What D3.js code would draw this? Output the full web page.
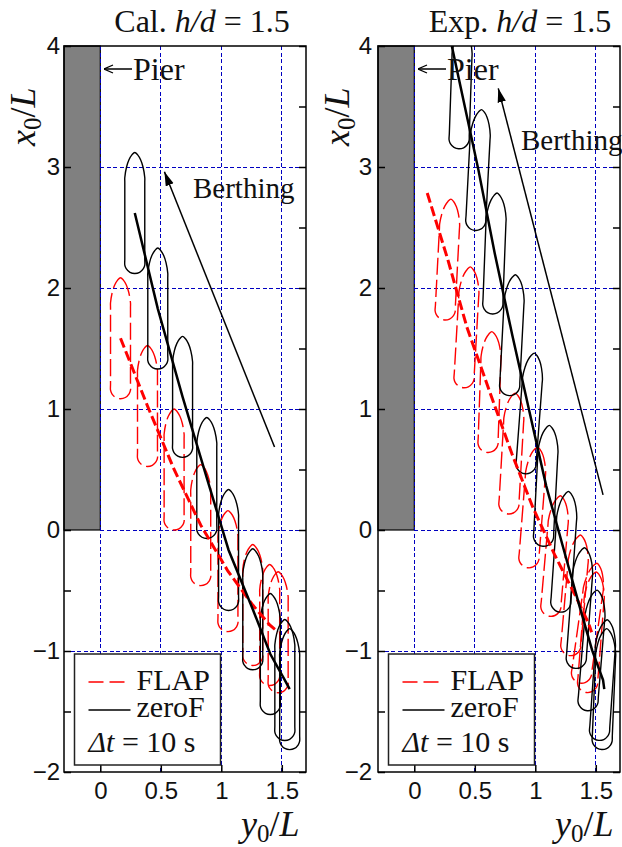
<!DOCTYPE html>
<html>
<head>
<meta charset="utf-8">
<script src="https://cdn.jsdelivr.net/npm/d3@7"></script>
<style>
  html, body { margin: 0; padding: 0; background: #fff; }
  svg { display: block; }
  .serif { font-family: "Liberation Serif", serif; }
  .axis text { font-family: "Liberation Sans", sans-serif; font-size: 24px; fill: #111; }
  .axis line { stroke: #000; stroke-width: 1.5px; }
  .axis path { display: none; }
</style>
</head>
<body>
<div id="chart"></div>
<script>
var xTicks = [0, 0.5, 1, 1.5];
var xTickLabels = ["0", "0.5", "1", "1.5"];
var yTicks = [-2, -1, 0, 1, 2, 3, 4];
var yTickLabels = ["\u22122", "\u22121", "0", "1", "2", "3", "4"];
var yMinorTicks = [-1.5, -0.5, 0.5, 1.5, 2.5, 3.5];
var xDomain = [-0.3, 1.7];
var yDomain = [-2, 4];
var pierEdge = 0;

// Cal. panel: ship centres (y0/L, x0/L) and heading in degrees
var calZeroY = [0.285, 0.475, 0.68, 0.88, 1.06, 1.26, 1.405, 1.525, 1.565];
var calZeroX = [2.62, 1.83, 1.10, 0.43, -0.165, -0.655, -1.025, -1.24, -1.315];
var calZeroHeading = [0, 0, 0, 0, 0, 0, 0, 0, 0];
var calFlapY = [0.167, 0.39, 0.61, 0.83, 1.055, 1.26, 1.40, 1.47];
var calFlapX = [1.585, 1.025, 0.50, 0.04, -0.34, -0.62, -0.785, -0.845];
var calFlapHeading = [0, 0, 0, 0, 0, 0, 0, 0];
var calArrowY = [1.44, 0.53];
var calArrowX = [0.686, 2.96];

// Exp. panel
var expZeroY = [0.385, 0.53, 0.665, 0.81, 0.955, 1.09, 1.24, 1.37, 1.47, 1.56, 1.57];
var expZeroX = [3.65, 2.975, 2.285, 1.61, 0.963, 0.365, -0.18, -0.645, -0.995, -1.24, -1.315];
var expZeroHeading = [2, 3, 2.2, 3, 4.3, 3, 4, 4.3, 4.7, 4, 2.4];
var expZeroStartY = 0.31;
var expZeroStartX = 4.0;
var expFlapY = [0.277, 0.435, 0.624, 0.806, 0.98, 1.165, 1.33, 1.44, 1.465];
var expFlapX = [2.235, 1.675, 1.14, 0.632, 0.186, -0.215, -0.54, -0.77, -0.845];
var expFlapHeading = [3, 3.3, 2, 3.3, 4.5, 5, 5, 8, 4.5];
var expFlapStartY = 0.107;
var expFlapStartX = 2.785;
var expArrowY = [1.56, 0.694];
var expArrowX = [0.29, 3.65];

// half of the hull outline, along the ship and across it (ship lengths)
var hullAlong = [0.5, 0.48, 0.44, 0.38, 0.293, 0.25, -0.38, -0.43, -0.46, -0.49, -0.5];
var hullAcross = [0, 0.024, 0.048, 0.068, 0.0825, 0.0825, 0.0825, 0.0825, 0.071, 0.04, 0];

var W = 622, H = 847;
var svg = d3.select("#chart").append("svg").attr("width", W).attr("height", H);

var defs = svg.append("defs");
defs.append("marker").attr("id", "head")
  .attr("viewBox", "0 0 10 6").attr("refX", 10).attr("refY", 3)
  .attr("markerUnits", "userSpaceOnUse")
  .attr("markerWidth", 14).attr("markerHeight", 9).attr("orient", "auto")
  .append("path").attr("d", "M0,0L10,3L0,6Z").attr("fill", "#000");
defs.append("marker").attr("id", "barb")
  .attr("viewBox", "0 0 10 10").attr("refX", 10).attr("refY", 5)
  .attr("markerUnits", "userSpaceOnUse")
  .attr("markerWidth", 10).attr("markerHeight", 10).attr("orient", "auto")
  .append("path").attr("d", "M1,1L10,5L1,9").attr("fill", "none").attr("stroke", "#000").attr("stroke-width", 1.3);

// closed outline of one ship in data units
function hullPoints(cy, cx, heading) {
  var a = heading * Math.PI / 180;
  var pts = [];
  hullAlong.forEach(function(u, i) {
    pts.push([u, hullAcross[i]]);
  });
  for (var i = hullAlong.length - 2; i > 0; i--) {
    pts.push([hullAlong[i], -hullAcross[i]]);
  }
  return pts.map(function(p) {
    return [cy + p[0] * Math.sin(a) + p[1] * Math.cos(a),
            cx + p[0] * Math.cos(a) - p[1] * Math.sin(a)];
  });
}

function drawPanel(cfg) {
  var x = d3.scaleLinear().domain(xDomain).range([cfg.left, cfg.left + 242]);
  var y = d3.scaleLinear().domain(yDomain).range([772, 46]);
  var g = svg.append("g");

  defs.append("clipPath").attr("id", cfg.id)
    .append("rect").attr("x", cfg.left).attr("y", 46).attr("width", 242).attr("height", 726);

  // pier
  g.append("rect")
    .attr("x", x(xDomain[0])).attr("y", y(4))
    .attr("width", x(pierEdge) - x(xDomain[0])).attr("height", y(0) - y(4))
    .attr("fill", "#808080").attr("stroke", "#000").attr("stroke-width", 1.2);

  // grid
  g.selectAll(".gv").data(xTicks).enter().append("line")
    .attr("x1", function(d) { return x(d); }).attr("x2", function(d) { return x(d); })
    .attr("y1", y(4)).attr("y2", y(-2))
    .attr("stroke", "#0000c0").attr("stroke-width", 1).attr("stroke-dasharray", "4,2.5")
    .attr("shape-rendering", "crispEdges");
  g.selectAll(".gh").data(yTicks.slice(1, 6)).enter().append("line")
    .attr("x1", function(d) { return d >= 0 ? x(pierEdge) : x(xDomain[0]); }).attr("x2", x(xDomain[1]))
    .attr("y1", function(d) { return y(d); }).attr("y2", function(d) { return y(d); })
    .attr("stroke", "#0000c0").attr("stroke-width", 1).attr("stroke-dasharray", "4,2.5")
    .attr("shape-rendering", "crispEdges");

  var plot = g.append("g").attr("clip-path", "url(#" + cfg.id + ")");
  var hull = d3.line()
    .x(function(d) { return x(d[0]); })
    .y(function(d) { return y(d[1]); })
    .curve(d3.curveCatmullRomClosed.alpha(0.5));
  var track = d3.line()
    .x(function(d) { return x(d[0]); })
    .y(function(d) { return y(d[1]); });

  // FLAP first, zeroF on top
  cfg.flapY.forEach(function(v, i) {
    plot.append("path").attr("d", hull(hullPoints(v, cfg.flapX[i], cfg.flapH[i])))
      .attr("fill", "none").attr("stroke", "#ff0000").attr("stroke-width", 1.4)
      .attr("stroke-dasharray", "17,5");
  });
  cfg.zeroY.forEach(function(v, i) {
    plot.append("path").attr("d", hull(hullPoints(v, cfg.zeroX[i], cfg.zeroH[i])))
      .attr("fill", "none").attr("stroke", "#000").attr("stroke-width", 1.4);
  });
  plot.append("path").attr("d", track(cfg.flapTrack))
    .attr("fill", "none").attr("stroke", "#ff0000").attr("stroke-width", 3)
    .attr("stroke-dasharray", "10,4");
  plot.append("path").attr("d", track(cfg.zeroTrack))
    .attr("fill", "none").attr("stroke", "#000").attr("stroke-width", 2.5);

  // berthing arrow
  g.append("line")
    .attr("x1", x(cfg.arrowY[0])).attr("y1", y(cfg.arrowX[0]))
    .attr("x2", x(cfg.arrowY[1])).attr("y2", y(cfg.arrowX[1]))
    .attr("stroke", "#000").attr("stroke-width", 1.5).attr("marker-end", "url(#head)");
  g.append("text").attr("class", "serif").attr("x", cfg.berthX).attr("y", cfg.berthBase)
    .attr("font-size", 29).attr("fill", "#111").text("Berthing");

  // pier label
  g.append("line")
    .attr("x1", cfg.left + 68).attr("x2", cfg.left + 40).attr("y1", 69).attr("y2", 69)
    .attr("stroke", "#000").attr("stroke-width", 1.5).attr("marker-end", "url(#barb)");
  g.append("text").attr("class", "serif").attr("x", cfg.left + 69).attr("y", 80)
    .attr("font-size", 32).attr("fill", "#111").text("Pier");

  // axes
  var axB = d3.axisBottom(x).tickValues(xTicks).tickSizeInner(-7).tickSizeOuter(0).tickPadding(10)
    .tickFormat(function(d, i) { return xTickLabels[i]; });
  var axL = d3.axisLeft(y).tickValues(yTicks).tickSizeInner(-7).tickSizeOuter(0).tickPadding(cfg.tickPad)
    .tickFormat(function(d, i) { return yTickLabels[i]; });
  g.append("g").attr("class", "axis").attr("transform", "translate(0,772)").call(axB);
  g.append("g").attr("class", "axis").attr("transform", "translate(" + cfg.left + ",0)").call(axL);
  g.append("g").attr("class", "axis").attr("transform", "translate(" + (cfg.left + 242) + ",0)")
    .call(d3.axisRight(y).tickValues(yTicks.concat(yMinorTicks)).tickSizeInner(-7).tickSizeOuter(0).tickFormat(""));
  g.append("g").attr("class", "axis").attr("transform", "translate(" + cfg.left + ",0)")
    .call(d3.axisLeft(y).tickValues(yMinorTicks.slice(0, 2)).tickSizeInner(-7).tickSizeOuter(0).tickFormat(""));

  // legend
  var lx = cfg.left + 10.5;
  g.append("rect").attr("x", lx).attr("y", 654).attr("width", 146).attr("height", 111)
    .attr("fill", "#fff").attr("stroke", "#222").attr("stroke-width", 1.5);
  g.append("line").attr("x1", lx + 14).attr("x2", lx + 52).attr("y1", 682).attr("y2", 682)
    .attr("stroke", "#ff0000").attr("stroke-width", 1.4).attr("stroke-dasharray", "15,6");
  g.append("line").attr("x1", lx + 14).attr("x2", lx + 56).attr("y1", 710).attr("y2", 710)
    .attr("stroke", "#000").attr("stroke-width", 1.4);
  g.append("text").attr("class", "serif").attr("x", lx + 62).attr("y", 690)
    .attr("font-size", 30).attr("fill", "#111").text("FLAP");
  g.append("text").attr("class", "serif").attr("x", lx + 62).attr("y", 717)
    .attr("font-size", 30).attr("fill", "#111").text("zeroF");
  var dt = g.append("text").attr("class", "serif").attr("x", lx + 14).attr("y", 752)
    .attr("font-size", 30).attr("fill", "#111");
  dt.append("tspan").attr("font-style", "italic").text("\u0394t");
  dt.append("tspan").text(" = 10 s");

  // frame
  g.append("rect").attr("x", cfg.left).attr("y", 46).attr("width", 242).attr("height", 726)
    .attr("fill", "none").attr("stroke", "#000").attr("stroke-width", 1.5);

  // title
  var t = g.append("text").attr("class", "serif").attr("x", cfg.titleX).attr("y", 32)
    .attr("text-anchor", "middle").attr("font-size", 32).attr("fill", "#111");
  t.append("tspan").text(cfg.title + " ");
  t.append("tspan").attr("font-style", "italic").text("h/d");
  t.append("tspan").text(" = 1.5");

  // axis titles
  var xl = g.append("text").attr("class", "serif").attr("x", cfg.left + 177).attr("y", 836)
    .attr("font-size", 36).attr("fill", "#111");
  xl.append("tspan").attr("font-style", "italic").text("y");
  xl.append("tspan").attr("font-size", 25).attr("dy", 6).text("0");
  xl.append("tspan").attr("dy", -6).text("/");
  xl.append("tspan").attr("font-style", "italic").text("L");

  var yl = g.append("text").attr("class", "serif")
    .attr("transform", "translate(" + (cfg.left - 29) + ",146) rotate(-90)")
    .attr("font-size", 36).attr("fill", "#111");
  yl.append("tspan").attr("font-style", "italic").text("x");
  yl.append("tspan").attr("font-size", 25).attr("dy", 6).text("0");
  yl.append("tspan").attr("dy", -6).text("/");
  yl.append("tspan").attr("font-style", "italic").text("L");
}

function pairs(a, b) {
  return a.map(function(v, i) { return [v, b[i]]; });
}

drawPanel({
  id: "clipCal", left: 64, title: "Cal.", titleX: 202, tickPad: 4,
  zeroY: calZeroY, zeroX: calZeroX, zeroH: calZeroHeading,
  flapY: calFlapY, flapX: calFlapX, flapH: calFlapHeading,
  zeroTrack: pairs(calZeroY, calZeroX), flapTrack: pairs(calFlapY, calFlapX),
  arrowY: calArrowY, arrowX: calArrowX, berthX: 193, berthBase: 198
});
drawPanel({
  id: "clipExp", left: 378, title: "Exp.", titleX: 520, tickPad: 6,
  zeroY: expZeroY, zeroX: expZeroX, zeroH: expZeroHeading,
  flapY: expFlapY, flapX: expFlapX, flapH: expFlapHeading,
  zeroTrack: [[expZeroStartY, expZeroStartX]].concat(pairs(expZeroY, expZeroX)),
  flapTrack: [[expFlapStartY, expFlapStartX]].concat(pairs(expFlapY, expFlapX)),
  arrowY: expArrowY, arrowX: expArrowX, berthX: 521, berthBase: 150
});
</script>
</body>
</html>
